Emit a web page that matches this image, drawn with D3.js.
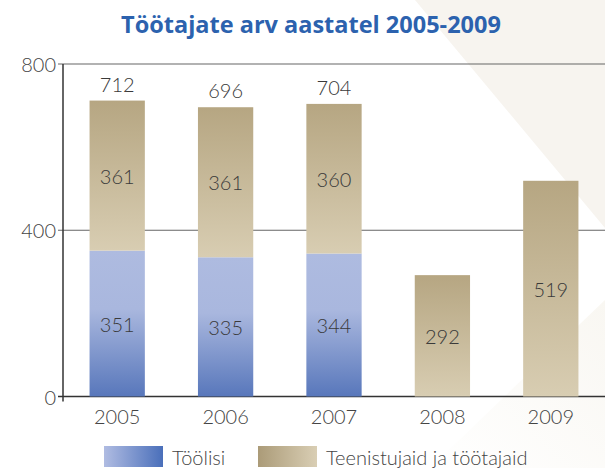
<!DOCTYPE html>
<html>
<head>
<meta charset="utf-8">
<script src="https://cdn.jsdelivr.net/npm/d3@7"></script>
<style>
  body { margin: 0; background: #fff; }
  text { font-family: Lato, "Open Sans", sans-serif; }
</style>
</head>
<body>
<svg id="chart" width="605" height="468"></svg>
<script>
// data
const years = ['2005', '2006', '2007', '2008', '2009']
const toolisi = [351, 335, 344, 0, 0]
const teenistujad = [361, 361, 360, 292, 519]
const totals = [712, 696, 704, null, null]
const yTicks = [0, 400, 800]
const seriesNames = ['Töölisi', 'Teenistujaid ja töötajaid']

const svg = d3.select('#chart')
const defs = svg.append('defs')

// vertical gradients for bars
const gBlue = defs.append('linearGradient').attr('id', 'gBlue')
    .attr('x1', 0).attr('y1', 0).attr('x2', 0).attr('y2', 1)
gBlue.append('stop').attr('offset', '0%').attr('stop-color', '#aebbe0')
gBlue.append('stop').attr('offset', '40%').attr('stop-color', '#a9b7de')
gBlue.append('stop').attr('offset', '100%').attr('stop-color', '#5877bb')
const gTan = defs.append('linearGradient').attr('id', 'gTan')
    .attr('x1', 0).attr('y1', 0).attr('x2', 0).attr('y2', 1)
gTan.append('stop').attr('offset', '0%').attr('stop-color', '#b6a682')
gTan.append('stop').attr('offset', '100%').attr('stop-color', '#d8cdb2')
// horizontal gradients for legend
const lBlue = defs.append('linearGradient').attr('id', 'lBlue')
lBlue.append('stop').attr('offset', '0%').attr('stop-color', '#b0bce2')
lBlue.append('stop').attr('offset', '100%').attr('stop-color', '#4a6fba')
const lTan = defs.append('linearGradient').attr('id', 'lTan')
lTan.append('stop').attr('offset', '0%').attr('stop-color', '#ab9b78')
lTan.append('stop').attr('offset', '100%').attr('stop-color', '#d9ceb4')

// background decoration
svg.append('polygon')
    .attr('points', '415,0 605,0 605,228')
    .attr('fill', '#f7f4ef')
const bgGrad = defs.append('linearGradient').attr('id', 'bgGrad')
    .attr('x1', 0).attr('y1', 1).attr('x2', 1).attr('y2', 0)
bgGrad.append('stop').attr('offset', '0%').attr('stop-color', '#fff')
bgGrad.append('stop').attr('offset', '100%').attr('stop-color', '#f9f7f2')
svg.append('polygon')
    .attr('points', '605,300 605,468 430,468')
    .attr('fill', 'url(#bgGrad)')

// title
svg.append('text')
    .attr('x', 311).attr('y', 33)
    .attr('text-anchor', 'middle')
    .attr('font-size', 23.5)
    .attr('font-weight', 'bold')
    .style('font-family', '"Open Sans", sans-serif')
    .attr('fill', '#2c62ae')
    .text('Töötajate arv aastatel 2005-2009')

const x = d3.scaleBand().domain(years).range([63, 605])
    .paddingInner(0.49).paddingOuter(0.245)
const y = d3.scaleLinear().domain([0, 800]).range([396.5, 64])

// gridlines
svg.append('g').selectAll('line')
    .data(yTicks)
    .enter()
    .append('line')
    .attr('x1', 58).attr('x2', 605)
    .attr('y1', d => y(d)).attr('y2', d => y(d))
    .attr('stroke', d => d === 0 ? '#333' : '#666')
    .attr('stroke-width', d => d === 0 ? 1.5 : 1.2)

svg.append('line')
    .attr('x1', 63).attr('x2', 63)
    .attr('y1', y(800)).attr('y2', y(0) + 5)
    .attr('stroke', '#333').attr('stroke-width', 1.5)

svg.append('g').selectAll('text')
    .data(yTicks)
    .enter()
    .append('text')
    .attr('x', 56).attr('y', d => y(d))
    .attr('text-anchor', 'end')
    .attr('dominant-baseline', 'central')
    .attr('font-size', 20).attr('font-weight', 300)
    .attr('fill', '#444')
    .text(d => d)

// bars
const rows = years.map((yr, i) => ({yr, a: toolisi[i], b: teenistujad[i], t: totals[i]}))

const bars = svg.append('g')
bars.selectAll('rect.blue')
    .data(rows.filter(d => d.a > 0))
    .enter()
    .append('rect')
    .attr('class', 'blue')
    .attr('x', d => x(d.yr)).attr('width', x.bandwidth())
    .attr('y', d => y(d.a)).attr('height', d => y(0) - y(d.a))
    .attr('fill', 'url(#gBlue)')
bars.selectAll('rect.tan')
    .data(rows)
    .enter()
    .append('rect')
    .attr('class', 'tan')
    .attr('x', d => x(d.yr)).attr('width', x.bandwidth())
    .attr('y', d => y(d.a + d.b)).attr('height', d => y(d.a) - y(d.a + d.b))
    .attr('fill', 'url(#gTan)')

const lab = svg.append('g')
    .attr('font-size', 20).attr('font-weight', 300)
    .attr('fill', '#3a3a3a')
    .attr('text-anchor', 'middle')
lab.selectAll('text.a')
    .data(rows.filter(d => d.a > 0))
    .enter()
    .append('text')
    .attr('x', d => x(d.yr) + x.bandwidth() / 2)
    .attr('y', d => y(d.a / 2))
    .attr('dominant-baseline', 'central')
    .text(d => d.a)
lab.selectAll('text.b')
    .data(rows)
    .enter()
    .append('text')
    .attr('x', d => x(d.yr) + x.bandwidth() / 2)
    .attr('y', d => y(d.a + d.b / 2))
    .attr('dominant-baseline', 'central')
    .text(d => d.b)
lab.selectAll('text.t')
    .data(rows.filter(d => d.t))
    .enter()
    .append('text')
    .attr('x', d => x(d.yr) + x.bandwidth() / 2)
    .attr('y', d => y(d.t) - 17)
    .attr('dominant-baseline', 'central')
    .text(d => d.t)

// x labels
svg.append('g').selectAll('text')
    .data(years)
    .enter()
    .append('text')
    .attr('x', d => x(d) + x.bandwidth() / 2)
    .attr('y', 416)
    .attr('text-anchor', 'middle')
    .attr('dominant-baseline', 'central')
    .attr('font-size', 20).attr('font-weight', 300)
    .attr('fill', '#444')
    .text(d => d)

// legend
const legend = [
  {name: seriesNames[0], fill: 'url(#lBlue)', x: 104},
  {name: seriesNames[1], fill: 'url(#lTan)', x: 258}
]
const lg = svg.append('g').selectAll('g')
    .data(legend)
    .enter()
    .append('g')
    .attr('transform', d => `translate(${d.x},446)`)
lg.append('rect')
    .attr('width', 59).attr('height', 21)
    .attr('fill', d => d.fill)
lg.append('text')
    .attr('x', 68).attr('y', 11)
    .attr('dominant-baseline', 'central')
    .attr('font-size', 20).attr('font-weight', 300)
    .attr('fill', '#444')
    .text(d => d.name)
</script>
</body>
</html>
